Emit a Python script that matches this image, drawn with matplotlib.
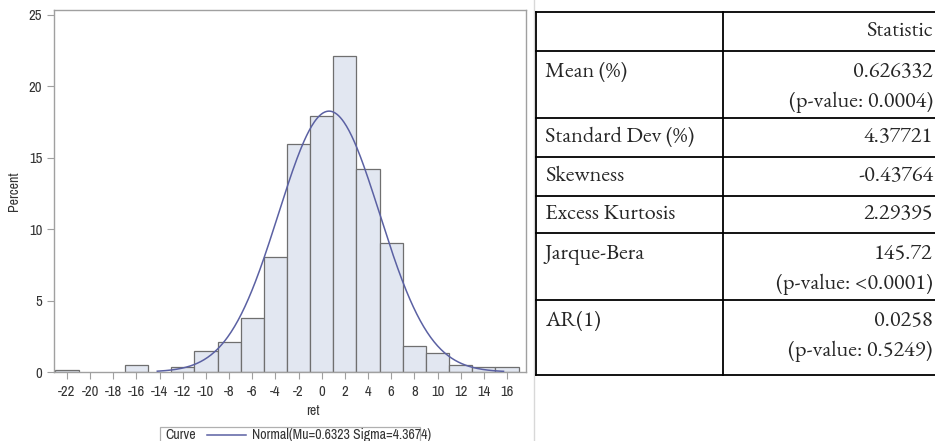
import numpy as np
import matplotlib.pyplot as plt
from matplotlib.lines import Line2D
from matplotlib.patches import Rectangle

# histogram of ret: percent of observations per bin (bin width 2, centred on even values)
bin_centers = [-22, -16, -12, -10, -8, -6, -4, -2, 0, 2, 4, 6, 8, 10, 12, 14, 16]
bin_percent = [0.16, 0.51, 0.35, 1.49, 2.12, 3.78, 8.02, 15.95, 17.91, 22.15,
               14.23, 9.05, 1.82, 1.33, 0.51, 0.35, 0.35]
bin_width = 2

# fitted normal curve (parameters from the legend)
mu = 0.6323
sigma = 4.3674
curve_start, curve_end = -14.2, 15.7

x_ticks = list(range(-22, 17, 2))
y_ticks = [0, 5, 10, 15, 20, 25]

# summary statistics table
stat_header = 'Statistic'
stat_names = ['Mean (%)', 'Standard Dev (%)', 'Skewness', 'Excess Kurtosis', 'Jarque-Bera', 'AR(1)']
stat_values = ['0.626332', '4.37721', '-0.43764', '2.29395', '145.72', '0.0258']
stat_pvalues = ['(p-value: 0.0004)', '', '', '', '(p-value: <0.0001)', '(p-value: 0.5249)']

W, H = 935, 441
plt.rcParams['axes.unicode_minus'] = False
narrow = ['Archivo Narrow', 'Liberation Sans', 'DejaVu Sans']
serif = ['EB Garamond', 'Liberation Serif', 'DejaVu Serif']
nfont = dict(family=narrow, fontsize=10, color='#333333')

fig = plt.figure(figsize=(W / 100, H / 100), dpi=100)

# ---- histogram panel ----
ax = fig.add_axes([54 / W, 1 - 372 / H, (526 - 54) / W, (372 - 10) / H])
ax.bar(bin_centers, bin_percent, width=bin_width, color='#e2e7f1',
       edgecolor='#6f6f6f', linewidth=0.9, zorder=2)
xs = np.linspace(curve_start, curve_end, 400)
ys = 100 * bin_width * np.exp(-0.5 * ((xs - mu) / sigma) ** 2) / (sigma * np.sqrt(2 * np.pi))
ax.plot(xs, ys, color='#5b61a3', linewidth=1.1, zorder=3)

ax.set_xlim(-23.12, 17.64)
ax.set_ylim(0, 25.35)
ax.set_xticks(x_ticks)
ax.set_yticks(y_ticks)
for s in ax.spines.values():
    s.set_color('#a0a0a0')
    s.set_linewidth(1.0)
ax.tick_params(colors='#a0a0a0', labelcolor='#333333', length=5, width=0.8)
ax.tick_params(axis='x', pad=4)
ax.set_xticklabels([str(t) for t in x_ticks], family=narrow, fontsize=10.5)
ax.set_yticklabels([str(t) for t in y_ticks], family=narrow, fontsize=10.5)
ax.set_xlabel('ret', **nfont)
ax.set_ylabel('Percent', **nfont)
ax.xaxis.set_label_coords((313 - 54) / (526 - 54), -(404 - 372) / (372 - 10))
ax.yaxis.set_label_coords(-(54 - 21) / (526 - 54), 0.5)

# ---- overlay in pixel coordinates for legend and table ----
ov = fig.add_axes([0, 0, 1, 1])
ov.set_xlim(0, W)
ov.set_ylim(H, 0)
ov.axis('off')
ov.patch.set_alpha(0)

# legend box
ov.add_patch(Rectangle((160, 427), 260, 20, facecolor='white', edgecolor='#b0b0b0', linewidth=0.9))
ov.text(165, 435, 'Curve', va='center', ha='left', **nfont)
ov.add_line(Line2D([207, 246], [435, 435], color='#5b61a3', linewidth=1.1))
ov.text(252, 435, 'Normal(Mu=%.4f Sigma=%.4f)' % (mu, sigma), va='center', ha='left', **nfont)

# separator
ov.add_line(Line2D([534, 534], [0, H], color='#d8d8d8', linewidth=1.0))

# table
row_edges = [12, 51, 118, 157, 196, 233, 300, 375]
tl, tdiv, tr = 535.5, 723, 940
lw = 1.3
for y in row_edges:
    ov.add_line(Line2D([tl, tr], [y, y], color='black', linewidth=lw))
ov.add_line(Line2D([tl, tl], [row_edges[0], row_edges[-1]], color='black', linewidth=lw))
ov.add_line(Line2D([tdiv, tdiv], [row_edges[0], row_edges[-1]], color='black', linewidth=lw))

tfs = 16
tcol = '#262626'
ov.text(933, (row_edges[0] + row_edges[1]) / 2, stat_header, family=serif, fontsize=tfs,
        ha='right', va='center', color=tcol)
for i, (name, val, pv) in enumerate(zip(stat_names, stat_values, stat_pvalues)):
    top, bot = row_edges[i + 1], row_edges[i + 2]
    if pv:
        y1, y2 = top + 21.5, top + 51.5
    else:
        y1 = (top + bot) / 2
    ov.text(545, y1, name, family=serif, fontsize=tfs, ha='left', va='center', color=tcol)
    ov.text(933, y1, val, family=serif, fontsize=tfs, ha='right', va='center', color=tcol)
    if pv:
        ov.text(933, y2, pv, family=serif, fontsize=tfs, ha='right', va='center', color=tcol)

fig.savefig('out.png', dpi=100)
